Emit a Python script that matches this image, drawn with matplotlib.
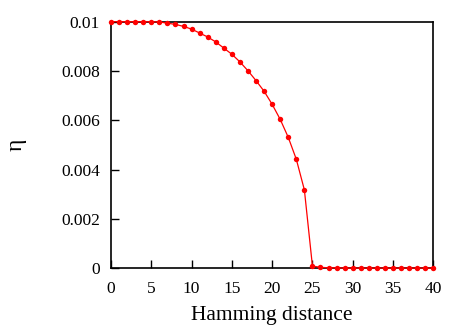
import matplotlib
matplotlib.use("Agg")
import matplotlib.pyplot as plt

hamming = list(range(41))
eta = [0.01, 0.01, 0.01, 0.01, 0.01, 0.01, 0.00999, 0.00994, 0.00989, 0.00981,
       0.0097, 0.00954, 0.00938, 0.00918, 0.00893, 0.00868, 0.00837, 0.00801,
       0.00761, 0.00718, 0.00665, 0.00604, 0.00531, 0.00442, 0.00318, 0.00009,
       0.00004, 0.00002, 0.00002, 0.00001, 0.00001, 0.00001, 0.00001, 0.00001,
       0.00001, 0.00001, 0.00001, 0.00001, 0.00001, 0.00001, 0.00001]
xticks = [0, 5, 10, 15, 20, 25, 30, 35, 40]
yticks = [0, 0.002, 0.004, 0.006, 0.008, 0.01]
yticklabels = ["0", "0.002", "0.004", "0.006", "0.008", "0.01"]

plt.rcParams['font.family'] = ['Liberation Serif', 'DejaVu Serif']
fig = plt.figure(figsize=(4.67, 3.27), dpi=100)
ax = fig.add_axes([111/467, 1 - 268.3/327, 322.3/467, 246.6/327])
ax.plot(hamming, eta, color='#ff0000', lw=0.9, marker='o', ms=3.9,
        markeredgewidth=0, clip_on=False, zorder=3)
ax.set_xlim(0, 40)
ax.set_ylim(0, 0.01)
ax.set_xticks(xticks)
ax.set_xticklabels([str(t) for t in xticks])
ax.set_yticks(yticks)
ax.set_yticklabels(yticklabels)
ax.tick_params(direction='in', length=5.8, width=1, labelsize=12.5,
               top=False, right=False)
ax.tick_params(axis='y', pad=8)
ax.tick_params(axis='x', pad=9)
for s in ax.spines.values():
    s.set_linewidth(1.2)
ax.set_xlabel("Hamming distance", fontsize=15.5, labelpad=6.5)
ax.set_ylabel("η", fontsize=17, labelpad=24.5)
fig.savefig("out.png", dpi=100)
